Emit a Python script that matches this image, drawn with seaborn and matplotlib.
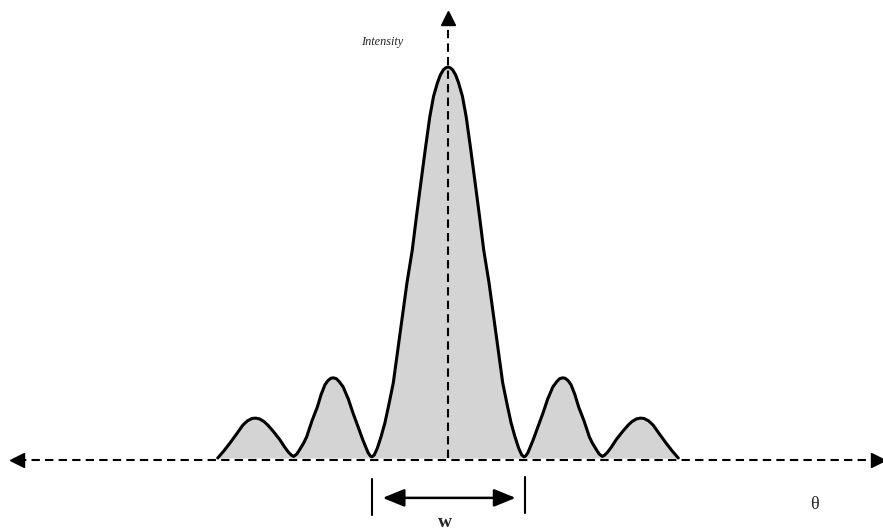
import matplotlib
matplotlib.use("Agg")
import matplotlib.pyplot as plt
import numpy as np
import seaborn as sns

# diffraction pattern (theta in units of first zero, intensity normalised)
theta_left = [-3.03, -2.95, -2.87, -2.78, -2.70, -2.64, -2.58, -2.53, -2.48, -2.42,
              -2.37, -2.29, -2.21, -2.15, -2.10, -2.06, -2.03, -1.99, -1.95, -1.90,
              -1.86, -1.79, -1.72, -1.67, -1.62, -1.58, -1.54, -1.51, -1.47, -1.43,
              -1.38, -1.31, -1.25, -1.18, -1.12, -1.08, -1.05, -1.02, -1.00, -0.97,
              -0.93, -0.88, -0.83, -0.78, -0.72, -0.63, -0.54, -0.47, -0.42, -0.37,
              -0.30, -0.24, -0.19, -0.14, -0.10, -0.06, -0.03]
intens_left = [0.000, 0.018, 0.038, 0.062, 0.084, 0.095, 0.101, 0.102, 0.100, 0.093,
               0.084, 0.066, 0.046, 0.028, 0.015, 0.007, 0.004, 0.010, 0.022, 0.038,
               0.054, 0.095, 0.130, 0.162, 0.187, 0.198, 0.204, 0.205, 0.203, 0.195,
               0.182, 0.150, 0.115, 0.078, 0.046, 0.027, 0.013, 0.005, 0.003, 0.008,
               0.025, 0.055, 0.090, 0.135, 0.192, 0.320, 0.448, 0.532, 0.610, 0.685,
               0.788, 0.872, 0.925, 0.959, 0.980, 0.993, 0.998]
theta_peak = [0.0]
intens_peak = [1.0]
theta_right = [0.03, 0.06, 0.10, 0.14, 0.19, 0.24, 0.30, 0.37, 0.42, 0.47,
               0.54, 0.63, 0.72, 0.78, 0.83, 0.88, 0.93, 0.97, 1.00, 1.02,
               1.05, 1.08, 1.12, 1.18, 1.25, 1.31, 1.38, 1.43, 1.47, 1.51,
               1.54, 1.58, 1.62, 1.67, 1.72, 1.79, 1.86, 1.90, 1.95, 1.99,
               2.03, 2.06, 2.10, 2.15, 2.21, 2.29, 2.37, 2.42, 2.48, 2.53,
               2.58, 2.64, 2.70, 2.78, 2.87, 2.95, 3.03]
intens_right = [0.998, 0.993, 0.980, 0.959, 0.925, 0.872, 0.788, 0.685, 0.610, 0.532,
                0.448, 0.320, 0.192, 0.135, 0.090, 0.055, 0.025, 0.008, 0.003, 0.005,
                0.013, 0.027, 0.046, 0.078, 0.115, 0.150, 0.182, 0.195, 0.203, 0.205,
                0.204, 0.198, 0.187, 0.162, 0.130, 0.095, 0.054, 0.038, 0.022, 0.010,
                0.004, 0.007, 0.015, 0.028, 0.046, 0.066, 0.084, 0.093, 0.100, 0.102,
                0.101, 0.095, 0.084, 0.062, 0.038, 0.018, 0.000]

theta = np.array(theta_left + theta_peak + theta_right)
intensity = np.array(intens_left + intens_peak + intens_right)

sns.set_theme(style="white")
plt.rcParams['font.family'] = ['Liberation Serif', 'DejaVu Serif']

fig = plt.figure(figsize=(8.83, 5.29), dpi=100)
ax = fig.add_axes([0, 0, 1, 1])

# filled pattern
ax.fill_between(theta, 0, intensity, color='#d4d4d4', lw=0, zorder=1)
line = sns.lineplot(x=theta, y=intensity, color='black', lw=2.2, sort=False, ax=ax, zorder=3)
for l in ax.lines:
    l.set_solid_joinstyle('round')

dash = (0, (4, 2.5))
# horizontal axis with arrows both sides
ax.plot([-5.66, 5.63], [-0.005, -0.005], color='black', lw=1.5, linestyle=dash, zorder=2)
ax.plot([-5.67], [-0.005], marker='<', ms=10, color='black', zorder=4)
ax.plot([5.66], [-0.005], marker='>', ms=10, color='black', zorder=4)
# vertical axis
ax.plot([0, 0], [0, 1.11], color='black', lw=1.5, linestyle=dash, zorder=2)
ax.plot([0], [1.125], marker='^', ms=10, color='black', zorder=4)

# width marker
ax.plot([-1.0, -1.0], [-0.054, -0.146], color='black', lw=1.5)
ax.plot([1.013, 1.013], [-0.049, -0.141], color='black', lw=1.5)
ax.annotate('', xy=(-0.86, -0.102), xytext=(0.89, -0.102),
            arrowprops=dict(arrowstyle='<|-|>,head_length=1.1,head_width=0.45',
                            color='black', lw=1.8, shrinkA=0, shrinkB=0))

ax.text(-0.04, -0.164, 'w', ha='center', va='center', fontsize=14, fontweight='bold')
ax.text(4.82, -0.120, 'θ', ha='center', va='center', fontsize=13)
ax.text(-0.86, 1.064, 'Intensity', ha='center', va='center', fontsize=8.8, style='italic')

ax.set_xlim(-5.895, 5.724)
ax.set_ylim(-0.1816, 1.1714)
ax.axis('off')

fig.savefig('out.png', dpi=100)
